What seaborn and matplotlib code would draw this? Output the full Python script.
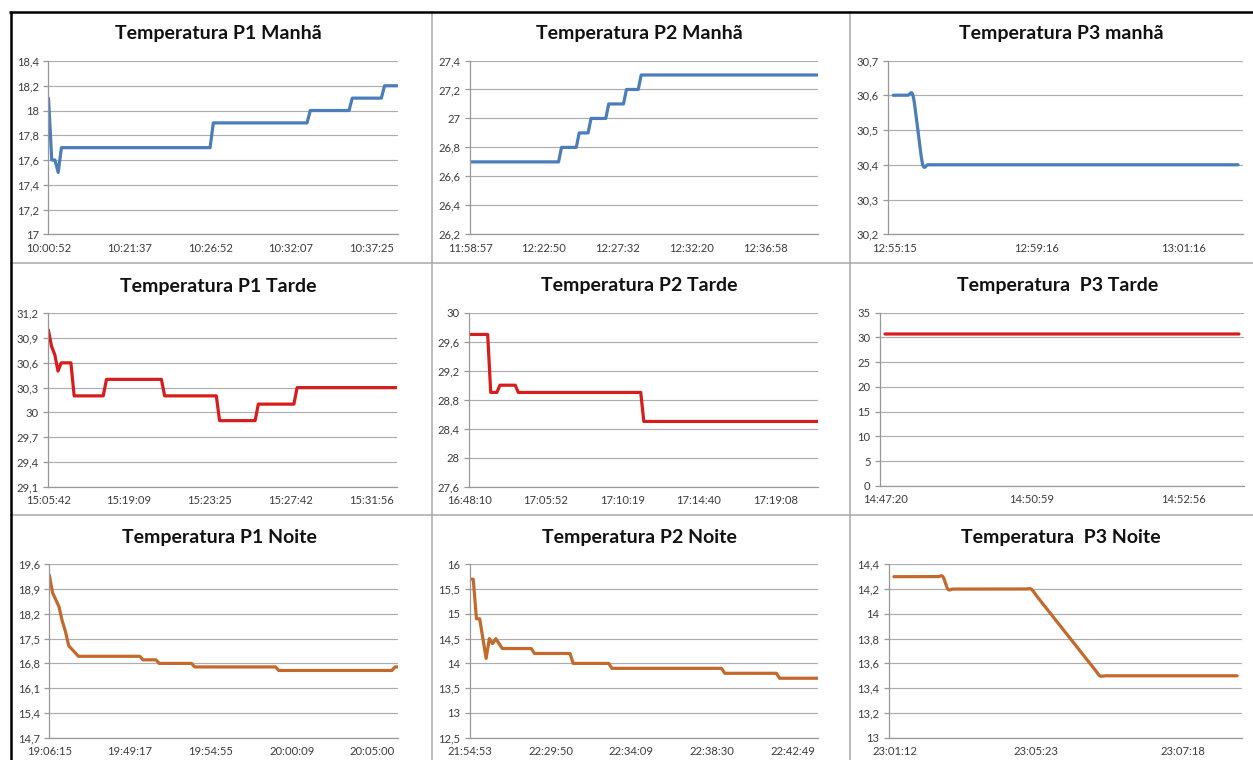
import numpy as np
import matplotlib
matplotlib.use("Agg")
import matplotlib.pyplot as plt
from matplotlib.lines import Line2D
from matplotlib.ticker import FixedLocator
import matplotlib.transforms as mtransforms
import seaborn as sns

# ---------------------------------------------------------------
# Temperature readings: each value is held for a number of
# consecutive samples (value list + run-length list per chart).
# ---------------------------------------------------------------
p1_manha_vals = [18.1, 17.6, 17.5, 17.7, 17.9, 18.0, 18.1, 18.2]
p1_manha_runs = [1, 2, 1, 47, 30, 13, 10, 5]
p1_manha_times = ["10:00:52", "10:21:37", "10:26:52", "10:32:07", "10:37:25"]

p2_manha_vals = [26.7, 26.8, 26.9, 27.0, 27.1, 27.2, 27.3]
p2_manha_runs = [31, 6, 4, 6, 6, 5, 61]
p2_manha_times = ["11:58:57", "12:22:50", "12:27:32", "12:32:20", "12:36:58"]

p3_manha_vals = [30.6, 30.5, 30.4]
p3_manha_runs = [5, 1, 65]
p3_manha_times = ["12:55:15", "12:59:16", "13:01:16"]

p1_tarde_vals = [31.0, 30.8, 30.7, 30.5, 30.6, 30.2, 30.4, 30.2, 29.9, 30.1, 30.3]
p1_tarde_runs = [1, 1, 1, 1, 4, 10, 18, 17, 12, 12, 32]
p1_tarde_times = ["15:05:42", "15:19:09", "15:23:25", "15:27:42", "15:31:56"]

p2_tarde_vals = [29.7, 28.9, 29.0, 28.9, 28.5]
p2_tarde_runs = [7, 3, 6, 41, 58]
p2_tarde_times = ["16:48:10", "17:05:52", "17:10:19", "17:14:40", "17:19:08"]

p3_tarde_vals = [30.7]
p3_tarde_runs = [71]
p3_tarde_times = ["14:47:20", "14:50:59", "14:52:56"]

p1_noite_vals = [19.3, 18.8, 18.6, 18.4, 18.0, 17.7, 17.3, 17.2, 17.1,
                 17.0, 16.9, 16.8, 16.7, 16.6, 16.7]
p1_noite_runs = [1, 1, 1, 1, 1, 1, 1, 1, 1, 20, 5, 11, 26, 36, 2]
p1_noite_times = ["19:06:15", "19:49:17", "19:54:55", "20:00:09", "20:05:00"]

p2_noite_vals = [15.7, 14.9, 14.5, 14.1, 14.5, 14.4, 14.5, 14.4,
                 14.3, 14.2, 14.0, 13.9, 13.8, 13.7]
p2_noite_runs = [2, 2, 1, 1, 1, 1, 1, 1, 10, 12, 12, 35, 17, 13]
p2_noite_times = ["21:54:53", "22:29:50", "22:34:09", "22:38:30", "22:42:49"]

p3_noite_vals = [14.3, 14.2, 14.15, 14.1, 14.05, 14.0, 13.95, 13.9, 13.85,
                 13.8, 13.75, 13.7, 13.65, 13.6, 13.55, 13.5]
p3_noite_runs = [11, 18, 1, 1, 1, 1, 1, 1, 1, 1, 1, 1, 1, 1, 1, 29]
p3_noite_times = ["23:01:12", "23:05:23", "23:07:18"]

titles = [
    ["Temperatura P1 Manhã", "Temperatura P2 Manhã", "Temperatura P3 manhã"],
    ["Temperatura P1 Tarde", "Temperatura P2 Tarde", "Temperatura  P3 Tarde"],
    ["Temperatura P1 Noite", "Temperatura P2 Noite", "Temperatura  P3 Noite"],
]

BLUE, RED, ORANGE = "#4A7DBA", "#D61C1C", "#C4692C"

# chart settings: data, time labels, y range/step, axis length (samples),
# first sample position, tick-mark step, label step, colour, smoothed line
charts = [
    [
        dict(vals=p1_manha_vals, runs=p1_manha_runs, times=p1_manha_times,
             y=(17.0, 18.4, 0.2), n=108, start=0, tick=10, lab=25, color=BLUE, smooth=False),
        dict(vals=p2_manha_vals, runs=p2_manha_runs, times=p2_manha_times,
             y=(26.2, 27.4, 0.2), n=118, start=0, tick=15, lab=25, color=BLUE, smooth=False),
        dict(vals=p3_manha_vals, runs=p3_manha_runs, times=p3_manha_times,
             y=(30.2, 30.7, 0.1), n=72, start=1, tick=10, lab=30, color=BLUE, smooth=True),
    ],
    [
        dict(vals=p1_tarde_vals, runs=p1_tarde_runs, times=p1_tarde_times,
             y=(29.1, 31.2, 0.3), n=108, start=0, tick=10, lab=25, color=RED, smooth=False),
        dict(vals=p2_tarde_vals, runs=p2_tarde_runs, times=p2_tarde_times,
             y=(27.6, 30.0, 0.4), n=114, start=0, tick=10, lab=25, color=RED, smooth=False),
        dict(vals=p3_tarde_vals, runs=p3_tarde_runs, times=p3_tarde_times,
             y=(0, 35, 5), n=72, start=1, tick=20, lab=30, color=RED, smooth=True),
    ],
    [
        dict(vals=p1_noite_vals, runs=p1_noite_runs, times=p1_noite_times,
             y=(14.7, 19.6, 0.7), n=108, start=0, tick=10, lab=25, color=ORANGE, smooth=False),
        dict(vals=p2_noite_vals, runs=p2_noite_runs, times=p2_noite_times,
             y=(12.5, 16.0, 0.5), n=108, start=0, tick=10, lab=25, color=ORANGE, smooth=False),
        dict(vals=p3_noite_vals, runs=p3_noite_runs, times=p3_noite_times,
             y=(13.0, 14.4, 0.2), n=72, start=1, tick=10, lab=30, color=ORANGE, smooth=True),
    ],
]

# plot-area rectangles in pixels (left, top, right, bottom)
rects = [
    [(48.5, 61.0, 397.5, 234.3), (470.0, 60.5, 818.3, 234.3), (888.3, 60.5, 1243.0, 234.3)],
    [(48.3, 313.3, 397.3, 486.7), (469.3, 312.7, 818.3, 486.7), (880.0, 312.7, 1244.0, 486.0)],
    [(49.3, 564.3, 398.3, 737.7), (470.0, 564.3, 818.3, 737.7), (889.0, 564.3, 1242.0, 737.7)],
]


def catmull_rom(x, y, per=16):
    """Smoothed curve through the samples (cardinal spline, unit spacing)."""
    x = np.asarray(x, float)
    y = np.asarray(y, float)
    yp = np.concatenate([[y[0]], y, [y[-1]]])
    m = (yp[2:] - yp[:-2]) / 2.0
    t = np.linspace(0, 1, per, endpoint=False)
    h00 = 2 * t**3 - 3 * t**2 + 1
    h10 = t**3 - 2 * t**2 + t
    h01 = -2 * t**3 + 3 * t**2
    h11 = t**3 - t**2
    xs, ys = [], []
    for i in range(len(y) - 1):
        xs.append(x[i] + t * (x[i + 1] - x[i]))
        ys.append(h00 * y[i] + h10 * m[i] + h01 * y[i + 1] + h11 * m[i + 1])
    xs.append([x[-1]])
    ys.append([y[-1]])
    return np.concatenate(xs), np.concatenate(ys)


def fmt(v):
    return f"{round(v, 4):g}".replace(".", ",")


sns.set_theme(style="white")
plt.rcParams["font.family"] = ["Lato", "DejaVu Sans"]

W, H = 1253, 760
fig = plt.figure(figsize=(W / 100, H / 100), dpi=100)
fig.patch.set_facecolor("white")

GRID = "#ADADAD"
AXIS = "#989898"
TXT = "#3C3C3C"

for r in range(3):
    for c in range(3):
        cfg = charts[r][c]
        x0, y0, x1, y1 = rects[r][c]
        ax = fig.add_axes([x0 / W, 1 - y1 / H, (x1 - x0) / W, (y1 - y0) / H])
        ax.set_facecolor("white")

        yv = np.repeat(cfg["vals"], cfg["runs"]).astype(float)
        xv = cfg["start"] + np.arange(len(yv))
        if cfg["smooth"]:
            xv, yv = catmull_rom(xv, yv)
        sns.lineplot(x=xv, y=yv, ax=ax, color=cfg["color"], linewidth=2.3,
                     estimator=None, sort=False, errorbar=None)

        ymin, ymax, ystep = cfg["y"]
        ax.set_xlim(0, cfg["n"])
        ax.set_ylim(ymin, ymax)
        yt = np.round(np.arange(ymin, ymax + ystep / 2, ystep), 4)
        ax.yaxis.set_major_locator(FixedLocator(yt))
        ax.set_yticklabels([fmt(v) for v in yt])
        ax.yaxis.grid(True, color=GRID, linewidth=0.85)
        ax.xaxis.grid(False)
        ax.set_axisbelow(True)

        ax.xaxis.set_major_locator(FixedLocator(np.arange(len(cfg["times"])) * cfg["lab"]))
        ax.set_xticklabels(cfg["times"])
        ax.xaxis.set_minor_locator(FixedLocator(np.arange(0, cfg["n"] + 1e-9, cfg["tick"])))
        ax.xaxis.remove_overlapping_locs = False
        ax.tick_params(axis="x", which="major", length=0, pad=6.0,
                       labelsize=8.1, labelcolor=TXT)
        ax.tick_params(axis="x", which="minor", length=3.5, width=0.9,
                       color=AXIS, direction="out")
        ax.tick_params(axis="y", which="major", length=3.8, width=0.9, color=AXIS,
                       direction="out", pad=3.0, labelsize=8.1, labelcolor=TXT, left=True)
        ax.set_xlabel("")
        ax.set_ylabel("")

        for side in ("top", "right"):
            ax.spines[side].set_visible(False)
        for side in ("left", "bottom"):
            ax.spines[side].set_color(AXIS)
            ax.spines[side].set_linewidth(0.9)

        if c == 2:
            first = ax.get_xticklabels()[0]
            first.set_transform(first.get_transform() +
                                mtransforms.ScaledTranslation(6 / 100, 0, fig.dpi_scale_trans))

        ttrans = mtransforms.offset_copy(ax.transAxes, fig=fig, x=0, y=27, units="dots")
        ax.text(0.487, 1.0, titles[r][c], transform=ttrans, ha="center", va="center",
                fontsize=14, fontweight="bold", color="#111111")

# panel separators and outer frame
def fig_line(xs, ys, color, lw):
    fig.add_artist(Line2D([v / W for v in xs], [1 - v / H for v in ys],
                          transform=fig.transFigure, color=color, linewidth=lw,
                          solid_capstyle="butt"))

SEP = "#A8A8A8"
for xs in (431.5, 849.5):
    fig_line([xs, xs], [11, H], SEP, 1.1)
for ys in (262.5, 514.5):
    fig_line([10, W], [ys, ys], SEP, 1.1)
fig_line([9, W], [11.5, 11.5], "black", 1.8)
fig_line([10.5, 10.5], [10.5, H], "black", 1.8)

fig.savefig("out.png", dpi=100, facecolor="white")
